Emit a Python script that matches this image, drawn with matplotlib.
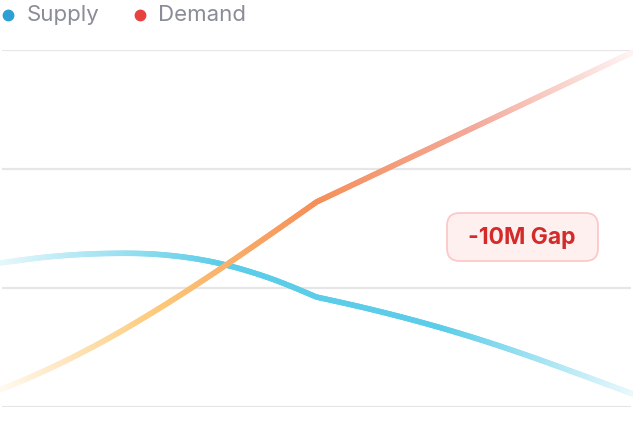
import numpy as np
import matplotlib
matplotlib.use("Agg")
import matplotlib.pyplot as plt
from matplotlib.collections import LineCollection
from matplotlib.colors import to_rgb
from matplotlib.patches import FancyBboxPatch
from matplotlib.lines import Line2D

# ---- data (values in millions) ----
periods = list(range(13))
supply = [12.10, 12.65, 12.90, 12.82, 12.22, 11.00, 9.24,
          8.24, 7.10, 5.80, 4.33, 2.73, 1.09]
demand = [1.43, 3.36, 5.63, 8.24, 11.09, 14.12, 17.23,
          19.33, 21.43, 23.53, 25.63, 27.73, 29.83]
grid_values = [0, 10, 20, 30]
legend_labels = ["Supply", "Demand"]
gap_label = "-10M Gap"
split_index = 6  # the curves break between the two phases here

W, H = 633, 440
fig = plt.figure(figsize=(W / 100, H / 100), dpi=100)
fig.patch.set_facecolor("white")
ax = fig.add_axes([0, (H - 407) / H, 1, (407 - 50) / H])
ax.set_xlim(0, 12)
ax.set_ylim(0, 30)
ax.axis("off")

for g in grid_values:
    ax.plot([0.04, 11.96], [g, g], color="#e6e6e6", lw=1.6, zorder=1,
            solid_capstyle="butt")


def blend(c, a):
    r = np.array(to_rgb(c))
    return tuple(1 - a * (1 - r))


def interp_stops(t, stops):
    ts = [s[0] for s in stops]
    for i in range(len(stops) - 1):
        if ts[i] <= t <= ts[i + 1]:
            f = (t - ts[i]) / (ts[i + 1] - ts[i])
            c0 = np.array(blend(stops[i][1], stops[i][2]))
            c1 = np.array(blend(stops[i + 1][1], stops[i + 1][2]))
            return tuple(c0 + (c1 - c0) * f)
    return blend(stops[-1][1], stops[-1][2])


def smooth_curve(xs, ys, n=30):
    """Catmull-Rom style cubic Hermite rendering through the points."""
    xs = np.asarray(xs, float)
    ys = np.asarray(ys, float)
    h = np.diff(xs)
    m = np.zeros_like(ys)
    for i in range(1, len(xs) - 1):
        m[i] = (ys[i + 1] - ys[i - 1]) / (xs[i + 1] - xs[i - 1])
    m[0] = 2 * (ys[1] - ys[0]) / h[0] - m[1]
    m[-1] = 2 * (ys[-1] - ys[-2]) / h[-1] - m[-2]
    m[0] = 0.5 * (m[0] + (ys[1] - ys[0]) / h[0])
    m[-1] = 0.5 * (m[-1] + (ys[-1] - ys[-2]) / h[-1])
    px, py = [], []
    for i in range(len(xs) - 1):
        t = np.linspace(0, 1, n, endpoint=(i == len(xs) - 2))
        h00 = 2 * t**3 - 3 * t**2 + 1
        h10 = t**3 - 2 * t**2 + t
        h01 = -2 * t**3 + 3 * t**2
        h11 = t**3 - t**2
        px.extend(xs[i] + t * h[i])
        py.extend(h00 * ys[i] + h10 * h[i] * m[i] + h01 * ys[i + 1]
                  + h11 * h[i] * m[i + 1])
    return np.array(px), np.array(py)


def gradient_line(xs, ys, stops, z):
    k = split_index
    ax1, ay1 = smooth_curve(xs[:k + 1], ys[:k + 1])
    ax2, ay2 = smooth_curve(xs[k:], ys[k:])
    px = np.concatenate([ax1, ax2[1:]])
    py = np.concatenate([ay1, ay2[1:]])
    xmax = xs[-1]
    segs, cols = [], []
    for i in range(len(px) - 1):
        segs.append([(px[i], py[i]), (px[i + 1], py[i + 1])])
        cols.append(interp_stops(((px[i] + px[i + 1]) / 2) / xmax, stops))
    lc = LineCollection(segs, colors=cols, linewidths=4.0, capstyle="round",
                        joinstyle="round", zorder=z, clip_on=False)
    ax.add_collection(lc)


supply_stops = [(0.0, "#5ccde8", 0.14), (0.35, "#5ccde8", 1.0),
                (0.7, "#5ccde8", 1.0), (1.0, "#5ccde8", 0.14)]
demand_stops = [(0.0, "#fcc24f", 0.07), (0.25, "#fcc162", 0.85),
                (0.5, "#f58f58", 1.0), (0.75, "#f19a88", 0.85),
                (1.0, "#f07070", 0.08)]

gradient_line(periods, supply, supply_stops, 3)
gradient_line(periods, demand, demand_stops, 4)


# ---- legend ----
def fx(px):
    return px / W


def fy(py):
    return 1 - py / H


fig.add_artist(Line2D([fx(8)], [fy(15)], marker="o", markersize=7.5,
                      color="#2e9fd4", transform=fig.transFigure))
fig.text(fx(27), fy(15), legend_labels[0], fontsize=16, color="#8a8d97",
         family="Inter", va="center", ha="left")
fig.add_artist(Line2D([fx(140)], [fy(15)], marker="o", markersize=7.5,
                      color="#e84240", transform=fig.transFigure))
fig.text(fx(158), fy(15), legend_labels[1], fontsize=16, color="#8a8d97",
         family="Inter", va="center", ha="left")

# ---- annotation ----
box = FancyBboxPatch((fx(447), fy(261)), fx(598) - fx(447), fy(213) - fy(261),
                     boxstyle="round,pad=0,rounding_size=0.02",
                     transform=fig.transFigure, facecolor="#fff0f0",
                     edgecolor="#fcc8c8", linewidth=1.3, zorder=6,
                     mutation_aspect=W / H)
fig.patches.append(box)
fig.text(fx(522), fy(238), gap_label, fontsize=16.5, color="#d42a2a",
         fontweight="bold", family="Inter", ha="center",
         va="center", zorder=7)

fig.savefig("out.png", dpi=100, facecolor="white")
